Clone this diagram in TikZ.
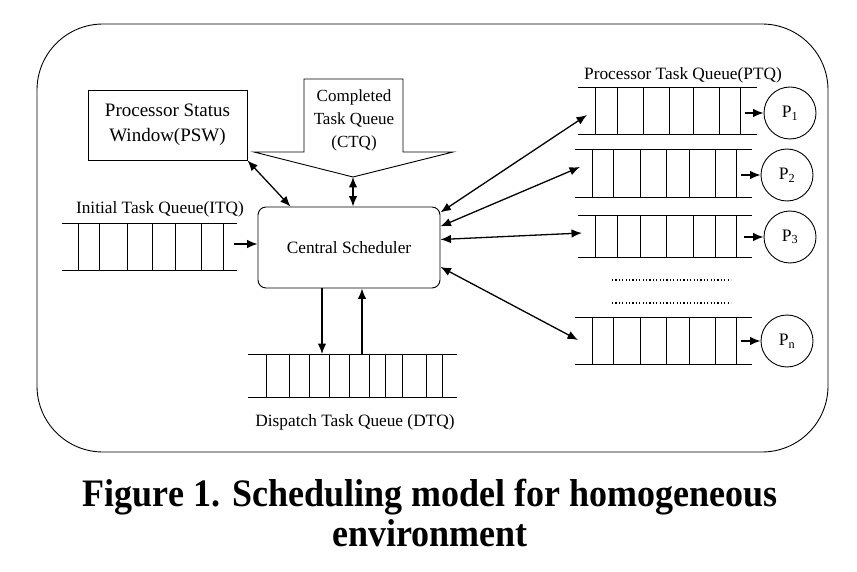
\documentclass[tikz,border=0pt]{standalone}
\usepackage{fontspec}
\setmainfont{Liberation Serif}
\usetikzlibrary{arrows.meta,calc}
\newcommand\tqueue[5]{\draw (#1,#3) -- (#2,#3) (#1,#4) -- (#2,#4);
  \foreach \v in {#5} \draw (\v,#3) -- (\v,#4);}

\begin{document}
\begin{tikzpicture}[x=1pt,y=-1pt,>={Latex[length=10.5pt,width=8.5pt]},line width=0.9pt]
\tikzstyle{psbox}=[draw,inner sep=0pt,align=center,font=\fontsize{17}{23}\selectfont]
\tikzstyle{proc}=[circle,draw,minimum size=52pt,inner sep=0pt,font=\fontsize{17.5}{20}\selectfont]
\tikzstyle{qlabel}=[inner sep=0pt,font=\fontsize{17.3}{20}\selectfont]
\tikzstyle{capt}=[inner sep=0pt,anchor=base,font=\fontsize{36}{40}\selectfont\bfseries]
\tikzstyle{link}=[line width=1.3pt]

\useasboundingbox (0,0) rectangle (857,572);
\draw[rounded corners=66pt] (37,24) rectangle (828,452);

\node [psbox,minimum width=159pt,minimum height=70pt,font=\fontsize{19}{25}\selectfont] (psw) at (167.5,125) {Processor Status\\Window(PSW)};
\node [psbox,rounded corners=8pt,minimum width=182pt,minimum height=81pt,font=\fontsize{17.3}{20}\selectfont] (cs) at (349,247.5) {Central Scheduler};

\draw (304,79) -- (403,79) -- (403,152) -- (453,152) -- (353,177) -- (254,152) -- (304,152) -- cycle;
\coordinate (ctqtip) at (353,177);
\node [qlabel,align=center,font=\fontsize{17}{23}\selectfont] (ctq) at (354,120) {Completed\\Task Queue\\(CTQ)};

\tqueue{62}{237}{223}{270}{78,99,127,152,175,201,223}
\tqueue{248}{457}{354}{397}{266,289,309,329,349,369,385,402,426,442}
\tqueue{578}{757}{87}{134}{595,617,643,669,693,719,740}
\tqueue{575}{752}{149}{197}{592,613,640,666,689,715,736}
\tqueue{578}{752}{215}{257}{595,617,640,666,693,715,736}
\tqueue{575}{752}{317}{364}{592,613,640,666,689,715,736}

\draw[line width=1.2pt,dash pattern=on 1.2pt off 2.2pt] (612,280) -- (731,280);
\draw[line width=1.2pt,dash pattern=on 1.2pt off 2.2pt] (612,303) -- (731,303);

\node [qlabel] (itq) at (160,209) {Initial Task Queue(ITQ)};
\node [qlabel] (ptq) at (683,75) {Processor Task Queue(PTQ)};
\node [qlabel] (dtq) at (355,422) {Dispatch Task Queue (DTQ)};

\node [proc] (p1) at (790,113) {P\textsubscript{1}};
\node [proc] (p2) at (787,175) {P\textsubscript{2}};
\node [proc] (p3) at (790,237) {P\textsubscript{3}};
\node [proc] (pn) at (787,341) {P\textsubscript{n}};

\coordinate (q1in) at (587,115);
\coordinate (q2in) at (580,167);
\coordinate (q3in) at (582,233);
\coordinate (qnin) at (578,340);
\coordinate (q1out) at (745,113);
\coordinate (q2out) at (741,175);
\coordinate (q3out) at (744,237);
\coordinate (qnout) at (741,341);
\coordinate (itqout) at (234,244);
\coordinate (dtqin) at (322,354);
\coordinate (dtqout) at (362,354);

\draw[link,<->] (psw.south east) -- (cs.145);
\draw[link,<->] (ctqtip) -- (ctqtip |- cs.north);
\draw[link,->] (itqout) -- (itqout -| cs.west);
\draw[link,->] (dtqin |- cs.south) -- (dtqin);
\draw[link,->] (dtqout) -- (dtqout |- cs.south);
\draw[link,<->] (cs.21) -- (q1in);
\draw[link,<->] (cs.13) -- (q2in);
\draw[link,<->] (cs.5) -- (q3in);
\draw[link,<->] (cs.348) -- (qnin);
\draw[link,->] (q1out) -- (p1);
\draw[link,->] (q2out) -- (p2);
\draw[link,->] (q3out) -- (p3);
\draw[link,->] (qnout) -- (pn);

\node [capt] (cap1) at (430,506) {\scalebox{1}[1.08]{Figure 1. Scheduling model for homogeneous}};
\node [capt] (cap2) at (430,546) {\scalebox{1}[1.08]{environment}};
\end{tikzpicture}
\end{document}
